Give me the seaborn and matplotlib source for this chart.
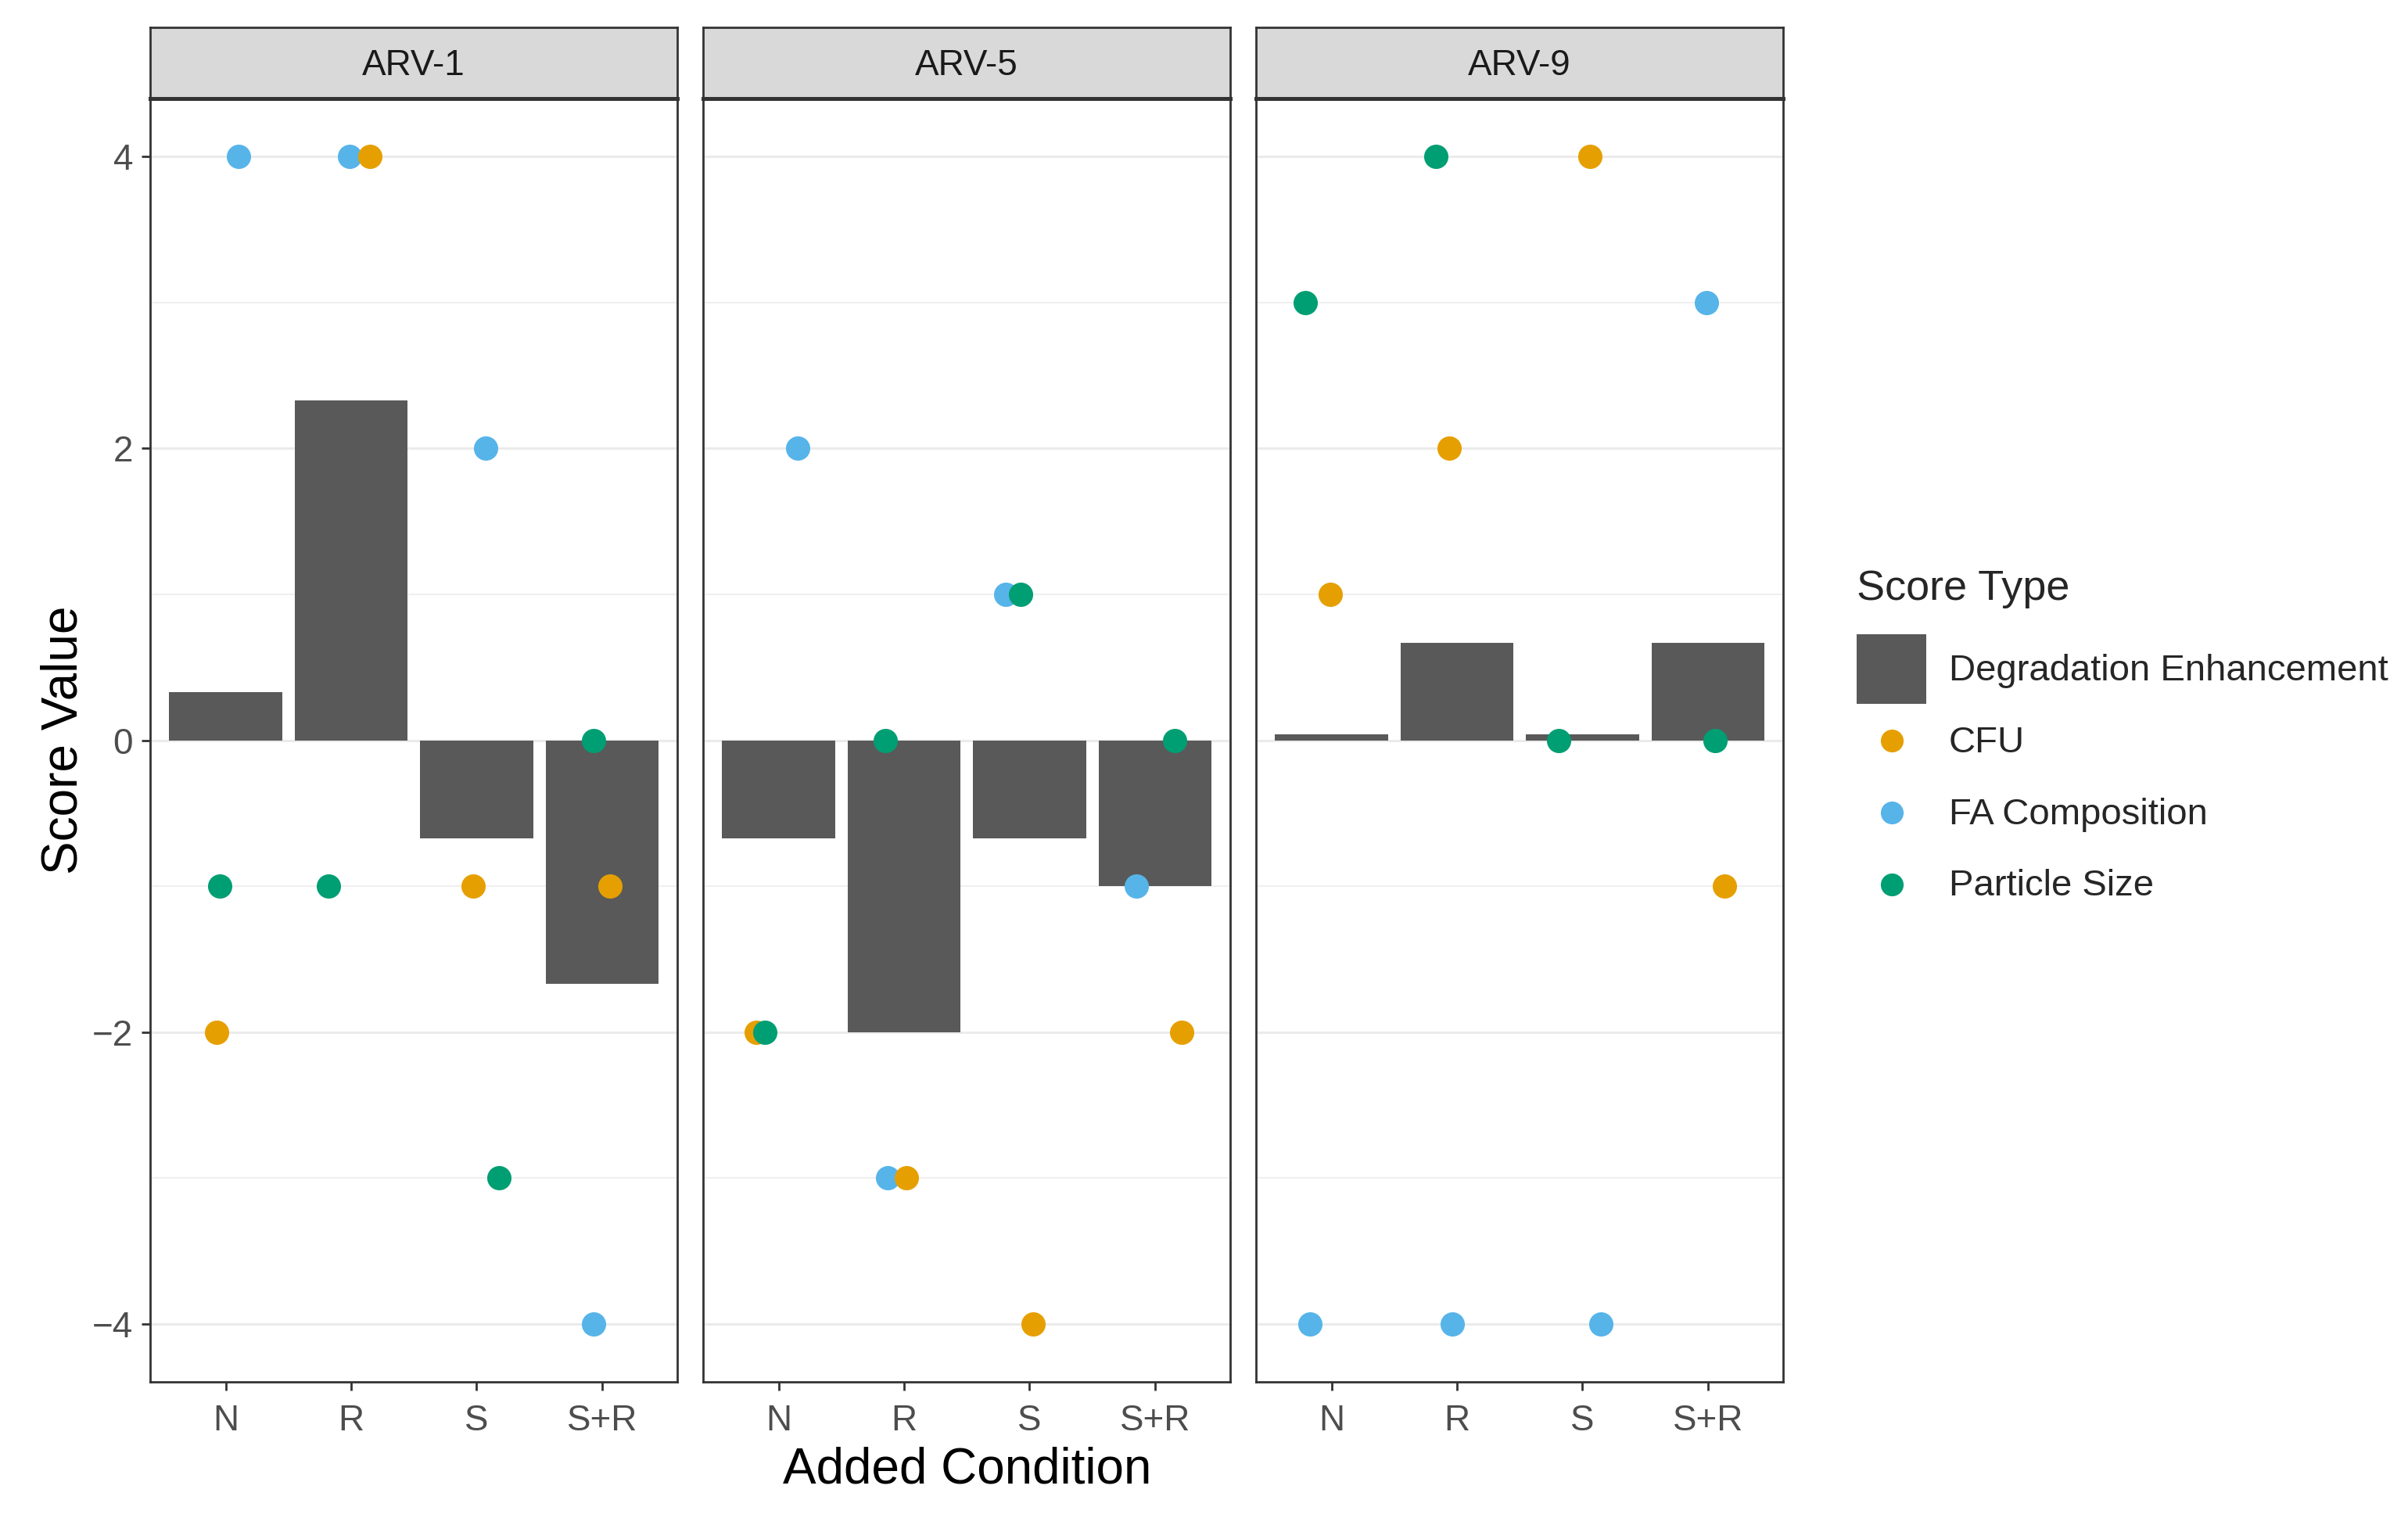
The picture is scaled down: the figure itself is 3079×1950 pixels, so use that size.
import numpy as np
import pandas as pd
import matplotlib
matplotlib.use("Agg")
import matplotlib.pyplot as plt
from matplotlib.patches import Patch
from matplotlib.lines import Line2D
from matplotlib.legend_handler import HandlerBase
import seaborn as sns

sns.set_theme(style="white")
plt.rcParams['font.family'] = ['Liberation Sans', 'DejaVu Sans']

# ---------------- data ----------------
conditions = ["N", "R", "S", "S+R"]
panels = ["ARV-1", "ARV-5", "ARV-9"]

cfu = {"ARV-1": [-2, 4, -1, -1], "ARV-5": [-2, -3, -4, -2], "ARV-9": [1, 2, 4, -1]}
fa_comp = {"ARV-1": [4, 4, 2, -4], "ARV-5": [2, -3, 1, -1], "ARV-9": [-4, -4, -4, 3]}
particle = {"ARV-1": [-1, -1, -3, 0], "ARV-5": [-2, 0, 1, 0], "ARV-9": [3, 4, 0, 0]}
degradation = {"ARV-1": [0.33, 2.33, -0.67, -1.67],
               "ARV-5": [-0.67, -2.0, -0.67, -1.0],
               "ARV-9": [0.04, 0.67, 0.04, 0.67]}

# horizontal jitter (category units)
cfu_jit = {"ARV-1": [-0.07, 0.15, -0.03, 0.06], "ARV-5": [-0.18, 0.02, 0.03, 0.21], "ARV-9": [-0.01, -0.06, 0.06, 0.13]}
fa_jit = {"ARV-1": [0.10, -0.01, 0.07, -0.07], "ARV-5": [0.15, -0.13, -0.19, -0.15], "ARV-9": [-0.17, -0.04, 0.15, -0.01]}
ps_jit = {"ARV-1": [-0.05, -0.18, 0.18, -0.07], "ARV-5": [-0.11, -0.15, -0.07, 0.16], "ARV-9": [-0.21, -0.17, -0.19, 0.06]}

score_types = ["CFU", "FA Composition", "Particle Size"]
palette = {"CFU": "#E69F00", "FA Composition": "#56B4E9", "Particle Size": "#009E73"}
bar_color = "#595959"

# build tables
bar_rows = []
pt_rows = []
for p in panels:
    for i, c in enumerate(conditions):
        bar_rows.append({"Panel": p, "Condition": c, "Value": degradation[p][i]})
    for t, vals, jit in [("FA Composition", fa_comp, fa_jit), ("CFU", cfu, cfu_jit),
                         ("Particle Size", particle, ps_jit)]:
        for i, c in enumerate(conditions):
            pt_rows.append({"Panel": p, "Condition": c, "Type": t,
                            "Score": vals[p][i], "x": i + jit[p][i]})
bars = pd.DataFrame(bar_rows)
pts = pd.DataFrame(pt_rows)

# ---------------- figure ----------------
W, H = 3079, 1950
dpi = 200
fig = plt.figure(figsize=(W / dpi, H / dpi), dpi=dpi)
fig.patch.set_facecolor("white")

lefts = [0.0625, 0.2921, 0.5217]
pw = 0.2188
bottom = 0.0937
ph = 0.8418
strip_h = 0.0464
border_col = "#333333"

for k, p in enumerate(panels):
    ax = fig.add_axes([lefts[k], bottom, pw, ph])
    ax.set_facecolor("white")
    sns.barplot(data=bars[bars.Panel == p], x="Condition", y="Value", order=conditions,
                color=bar_color, width=0.9, errorbar=None, ax=ax, zorder=2,
                saturation=1, linewidth=0)
    sub = pts[pts.Panel == p]
    for t in ["FA Composition", "CFU", "Particle Size"]:
        sns.scatterplot(data=sub[sub.Type == t], x="x", y="Score", color=palette[t],
                        s=125, linewidth=0, ax=ax, legend=False, zorder=3)
    ax.set_xlim(-0.6, 3.6)
    ax.set_ylim(-4.4, 4.4)
    ax.set_yticks([-4, -2, 0, 2, 4])
    ax.set_yticks([-3, -1, 1, 3], minor=True)
    ax.set_xticks(range(len(conditions)))
    ax.set_xticklabels(conditions)
    ax.grid(False)
    for y in [-4, -2, 0, 2, 4]:
        ax.axhline(y, color="#EBEBEB", lw=1.1, zorder=0)
    for y in [-3, -1, 1, 3]:
        ax.axhline(y, color="#EBEBEB", lw=0.55, zorder=0)
    for s in ax.spines.values():
        s.set_color(border_col)
        s.set_linewidth(1.0)
        s.set_visible(True)
    ax.tick_params(axis="both", which="major", length=4, width=1.0, color=border_col,
                   labelsize=16.5, labelcolor="#4D4D4D", pad=4, direction="out")
    ax.tick_params(axis="x", which="major", pad=6)
    ax.tick_params(axis="y", which="minor", length=0)
    ax.tick_params(bottom=True, left=(k == 0))
    if k != 0:
        ax.set_yticklabels([])
    ax.set_xlabel("")
    ax.set_ylabel("")

    sax = fig.add_axes([lefts[k], bottom + ph, pw, strip_h])
    sax.set_facecolor("#D9D9D9")
    sax.set_xticks([])
    sax.set_yticks([])
    for s in sax.spines.values():
        s.set_color(border_col)
        s.set_linewidth(1.0)
        s.set_visible(True)
    sax.spines["bottom"].set_linewidth(1.8)
    sax.text(0.5, 0.46, p, ha="center", va="center", fontsize=16.5, color="#1A1A1A",
             transform=sax.transAxes)

fig.text(0.0265, bottom + ph / 2, "Score Value", rotation=90, ha="center", va="center",
         fontsize=23, color="black")
fig.text(lefts[1] + pw / 2, 0.036, "Added Condition", ha="center", va="center",
         fontsize=23, color="black")


class CenteredMarker(HandlerBase):
    def create_artists(self, legend, orig_handle, xdescent, ydescent, width, height,
                       fontsize, trans):
        ln = Line2D([width / 2 - xdescent], [height / 2 - ydescent], marker="o",
                    linestyle="none", markersize=orig_handle.get_markersize(),
                    markerfacecolor=orig_handle.get_markerfacecolor(),
                    markeredgewidth=0)
        ln.set_transform(trans)
        return [ln]


handles = [Patch(facecolor=bar_color, edgecolor="none", label="Degradation Enhancement")]
for t in score_types:
    handles.append(Line2D([0], [0], marker="o", linestyle="none", markersize=10.5,
                          markerfacecolor=palette[t], markeredgewidth=0, label=t))
leg = fig.legend(handles=handles, loc="center left", bbox_to_anchor=(0.7635, 0.512),
                 frameon=False, title="Score Type", fontsize=17, title_fontsize=19.5,
                 handlelength=1.88, handleheight=2.52, labelspacing=0.06,
                 handletextpad=0.6, alignment="left", borderpad=0,
                 handler_map={Line2D: CenteredMarker()})
leg._legend_box.sep = 12

fig.savefig("out.png", dpi=dpi, facecolor="white")
